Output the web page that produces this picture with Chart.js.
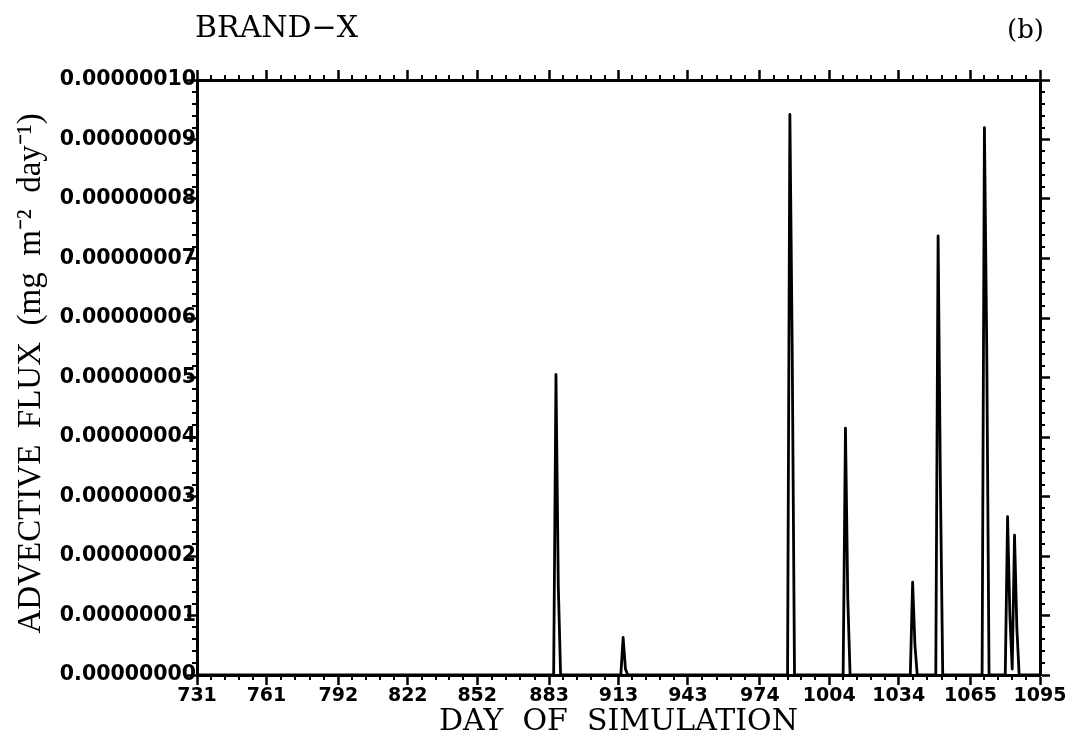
<!DOCTYPE html>
<html lang="en">
<head>
<meta charset="UTF-8">
<title>BRAND-X advective flux</title>
<script src="https://cdn.jsdelivr.net/npm/chart.js"></script>
<style>
    body { margin: 0; background: #fff; }
    #wrap { position: relative; width: 1076px; height: 752px; }
    #brand { position: absolute; left: 195px; top: 9px; font: 30px "DejaVu Serif", serif; color: #000; }
    #panel { position: absolute; left: 1007px; top: 14px; font: 26px "DejaVu Serif", serif; color: #000; }
</style>
</head>
<body>
<div id="wrap">
    <canvas id="flux-chart" width="1076" height="752"></canvas>
    <div id="brand">BRAND−X</div>
    <div id="panel">(b)</div>
</div>

<script>
    // axis ticks (day numbers at month starts, flux in mg m-2 day-1)
    var xTicks = [731, 761, 792, 822, 852, 883, 913, 943, 974, 1004, 1034, 1065, 1095];
    var yTicks = [0, 1e-8, 2e-8, 3e-8, 4e-8, 5e-8, 6e-8, 7e-8, 8e-8, 9e-8, 1e-7];

    // daily advective flux (zero outside the listed days)
    var days = [731,
        885, 886, 887, 888,
        914, 915, 916, 917,
        986, 987, 988, 989,
        1010, 1011, 1012, 1013,
        1039, 1040, 1041, 1042,
        1050, 1051, 1052, 1053,
        1070, 1071, 1072, 1073,
        1080, 1081, 1082, 1083, 1084, 1085, 1086,
        1095];
    var flux = [0,
        0, 5.05e-8, 1.5e-8, 0,
        0, 0.63e-8, 0.1e-8, 0,
        0, 9.42e-8, 5.5e-8, 0,
        0, 4.15e-8, 1.3e-8, 0,
        0, 1.56e-8, 0.5e-8, 0,
        0, 7.38e-8, 3.2e-8, 0,
        0, 9.2e-8, 5.5e-8, 0,
        0, 2.66e-8, 1.0e-8, 0.1e-8, 2.35e-8, 0.8e-8, 0,
        0];

    // small ticks between the labelled ones, on all four sides
    var minorTicks = {
        id: 'minorTicks',
        afterDraw: function (chart) {
            var ctx = chart.ctx, a = chart.chartArea, sx = chart.scales.x, sy = chart.scales.y;
            ctx.save();
            ctx.strokeStyle = '#000';
            ctx.lineWidth = 2;
            ctx.beginPath();
            for (var i = 0; i < xTicks.length - 1; i++) {
                for (var k = 1; k < 5; k++) {
                    var px = Math.round(sx.getPixelForValue(xTicks[i] + (xTicks[i + 1] - xTicks[i]) * k / 5));
                    ctx.moveTo(px, a.bottom); ctx.lineTo(px, a.bottom + 5);
                    ctx.moveTo(px, a.top); ctx.lineTo(px, a.top - 5);
                }
            }
            for (var j = 0; j < yTicks.length - 1; j++) {
                for (var m = 1; m < 5; m++) {
                    var py = Math.round(sy.getPixelForValue(yTicks[j] + (yTicks[j + 1] - yTicks[j]) * m / 5));
                    ctx.moveTo(a.left, py); ctx.lineTo(a.left - 5, py);
                    ctx.moveTo(a.right, py); ctx.lineTo(a.right + 5, py);
                }
            }
            ctx.stroke();
            ctx.restore();
        }
    };

    function frameGrid() {
        return { drawOnChartArea: false, drawTicks: true, tickLength: 10, tickWidth: 2.5, tickColor: '#000', color: '#000' };
    }
    var frameBorder = { display: true, color: '#000', width: 3 };

    var ctx = document.getElementById('flux-chart').getContext('2d');
    var fluxChart = new Chart(ctx, {
        type: 'line',
        data: {
            datasets: [{
                data: days.map(function (d, i) { return { x: d, y: flux[i] }; }),
                borderColor: '#000',
                borderWidth: 2.8,
                borderJoinStyle: 'round',
                pointRadius: 0,
                tension: 0,
                fill: false
            }]
        },
        options: {
            responsive: false,
            animation: false,
            plugins: { legend: { display: false }, tooltip: { enabled: false } },
            scales: {
                x: {
                    type: 'linear', position: 'bottom', min: 731, max: 1095,
                    afterBuildTicks: function (s) { s.ticks = xTicks.map(function (v) { return { value: v }; }); },
                    afterFit: function (s) { s.height = 77; },
                    ticks: { color: '#000', font: { family: 'DejaVu Sans', weight: 'bold', size: 19 }, padding: 0,
                             maxRotation: 0, autoSkip: false, callback: function (v) { return String(v); } },
                    grid: frameGrid(),
                    border: frameBorder,
                    title: { display: true, text: 'DAY  OF  SIMULATION', color: '#000',
                             font: { family: 'DejaVu Serif', size: 30 }, padding: { top: 0, bottom: 12 } }
                },
                xTop: {
                    type: 'linear', position: 'top', min: 731, max: 1095,
                    afterBuildTicks: function (s) { s.ticks = xTicks.map(function (v) { return { value: v }; }); },
                    afterFit: function (s) { s.height = 80; },
                    ticks: { display: false },
                    grid: frameGrid(),
                    border: frameBorder
                },
                y: {
                    type: 'linear', position: 'left', min: 0, max: 1e-7,
                    afterBuildTicks: function (s) { s.ticks = yTicks.map(function (v) { return { value: v }; }); },
                    afterFit: function (s) { s.width = 197; },
                    ticks: { color: '#000', font: { family: 'DejaVu Sans', weight: 'bold', size: 20.5 }, padding: -9,
                             callback: function (v) { return v.toFixed(8); } },
                    grid: frameGrid(),
                    border: frameBorder,
                    title: { display: true, text: ' ADVECTIVE  FLUX  (mg  m⁻²  day⁻¹)', color: '#000',
                             font: { family: 'Liberation Serif', size: 33 }, padding: { top: 12, bottom: 0 } }
                },
                yRight: {
                    type: 'linear', position: 'right', min: 0, max: 1e-7,
                    afterBuildTicks: function (s) { s.ticks = yTicks.map(function (v) { return { value: v }; }); },
                    afterFit: function (s) { s.width = 36; },
                    ticks: { display: false },
                    grid: frameGrid(),
                    border: frameBorder
                }
            }
        },
        plugins: [minorTicks]
    });
</script>
</body>
</html>
